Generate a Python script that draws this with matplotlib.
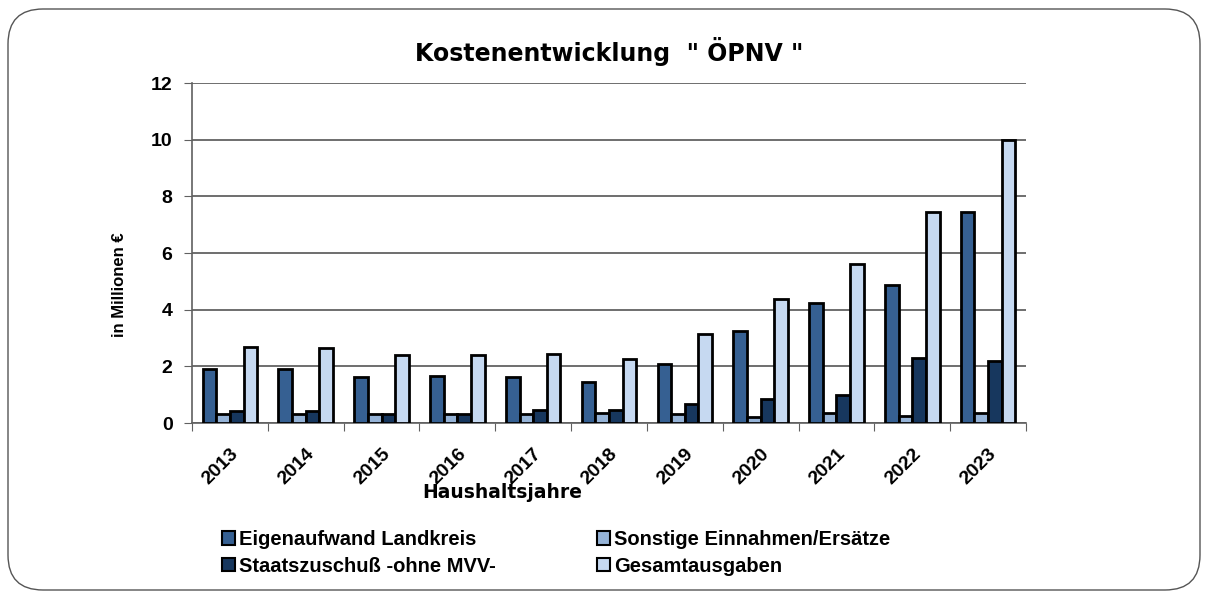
import numpy as np
import matplotlib
matplotlib.use("Agg")
import matplotlib.pyplot as plt
from matplotlib.patches import FancyBboxPatch, Patch

plt.rcParams['font.family'] = ['Liberation Sans', 'DejaVu Sans']
plt.rcParams['font.weight'] = 'bold'

# Daten (in Millionen €)
years = ["2013", "2014", "2015", "2016", "2017", "2018", "2019", "2020", "2021", "2022", "2023"]
eigenaufwand = [1.91, 1.89, 1.64, 1.65, 1.63, 1.45, 2.08, 3.25, 4.25, 4.86, 7.43]
sonstige = [0.32, 0.32, 0.33, 0.33, 0.32, 0.35, 0.33, 0.21, 0.35, 0.26, 0.35]
staatszuschuss = [0.41, 0.41, 0.33, 0.33, 0.46, 0.45, 0.68, 0.86, 0.99, 2.29, 2.18]
gesamt = [2.70, 2.64, 2.40, 2.40, 2.45, 2.25, 3.14, 4.36, 5.61, 7.43, 10.0]

labels = ["Eigenaufwand Landkreis", "Sonstige Einnahmen/Ersätze",
          "Staatszuschuß -ohne MVV-", "Gesamtausgaben"]
colors = ["#366092", "#95b3d7", "#17375e", "#c6d9f1"]
series = [eigenaufwand, sonstige, staatszuschuss, gesamt]

W, H = 1208, 599
fig = plt.figure(figsize=(W / 100, H / 100), dpi=100)
ax = fig.add_axes([192 / W, 1 - 423 / H, (1026 - 192) / W, (423 - 83) / H])

x = np.arange(len(years))
w = 0.18
for i, (vals, col) in enumerate(zip(series, colors)):
    ax.bar(x + (i - 1.5) * w, vals, w, color=col, edgecolor="black",
           linewidth=2, zorder=3)

ax.set_xlim(-0.5, len(years) - 0.5)
ax.set_ylim(0, 12)
ax.set_yticks(range(0, 13, 2))
ax.yaxis.grid(True, color="#555555", linewidth=1.2, zorder=0)
ax.set_xticks(np.arange(-0.5, len(years), 1.0))
ax.set_xticklabels([])
ax.set_xticks(x, minor=True)
ax.set_xticklabels(years, minor=True, rotation=45, ha="right", va="top",
                   rotation_mode="anchor", fontsize=14, fontweight="bold")
ax.tick_params(axis="x", which="minor", length=0, pad=16)
ax.tick_params(axis="x", which="major", length=6, direction="out", color="#606060")
ax.tick_params(axis="y", length=6, direction="out", color="#606060", labelsize=14, pad=8)
for lab in ax.get_yticklabels():
    lab.set_fontweight("bold")
for s in ["top", "right"]:
    ax.spines[s].set_visible(False)
for s in ["left", "bottom"]:
    ax.spines[s].set_color("#606060")
    ax.spines[s].set_linewidth(1.2)

fig.text(119 / W, 1 - 285 / H, "in Millionen €", rotation=90, ha="center", va="center",
         fontsize=12, fontweight="bold")
fig.text(502 / W, 1 - 493 / H, "Haushaltsjahre", ha="center", va="center",
         fontsize=13.5, fontweight="bold", family="DejaVu Sans")
fig.text(609 / W, 1 - 52 / H, 'Kostenentwicklung  " ÖPNV "', ha="center", va="center",
         fontsize=17, fontweight="bold", family="DejaVu Sans")

# Zeilenweise Reihenfolge wie im Original
order = [0, 2, 1, 3]
handles = [Patch(facecolor=colors[i], edgecolor="black", linewidth=1.5) for i in order]
leg = fig.legend(handles, [labels[i] for i in order], loc="upper left",
                 bbox_to_anchor=(222 / W, 1 - 530 / H), ncol=2, frameon=False,
                 handlelength=0.65, handleheight=0.65, handletextpad=0.2,
                 columnspacing=5.0, labelspacing=0.38, borderpad=0, borderaxespad=0,
                 prop={"weight": "bold", "size": 14.5})

border = FancyBboxPatch((0.08, 0.09), 11.92, 5.81, boxstyle="round,pad=0,rounding_size=0.35",
                        transform=fig.dpi_scale_trans, facecolor="none",
                        edgecolor="#555555", linewidth=1.0)
fig.patches.append(border)

fig.savefig("out.png", dpi=100)
